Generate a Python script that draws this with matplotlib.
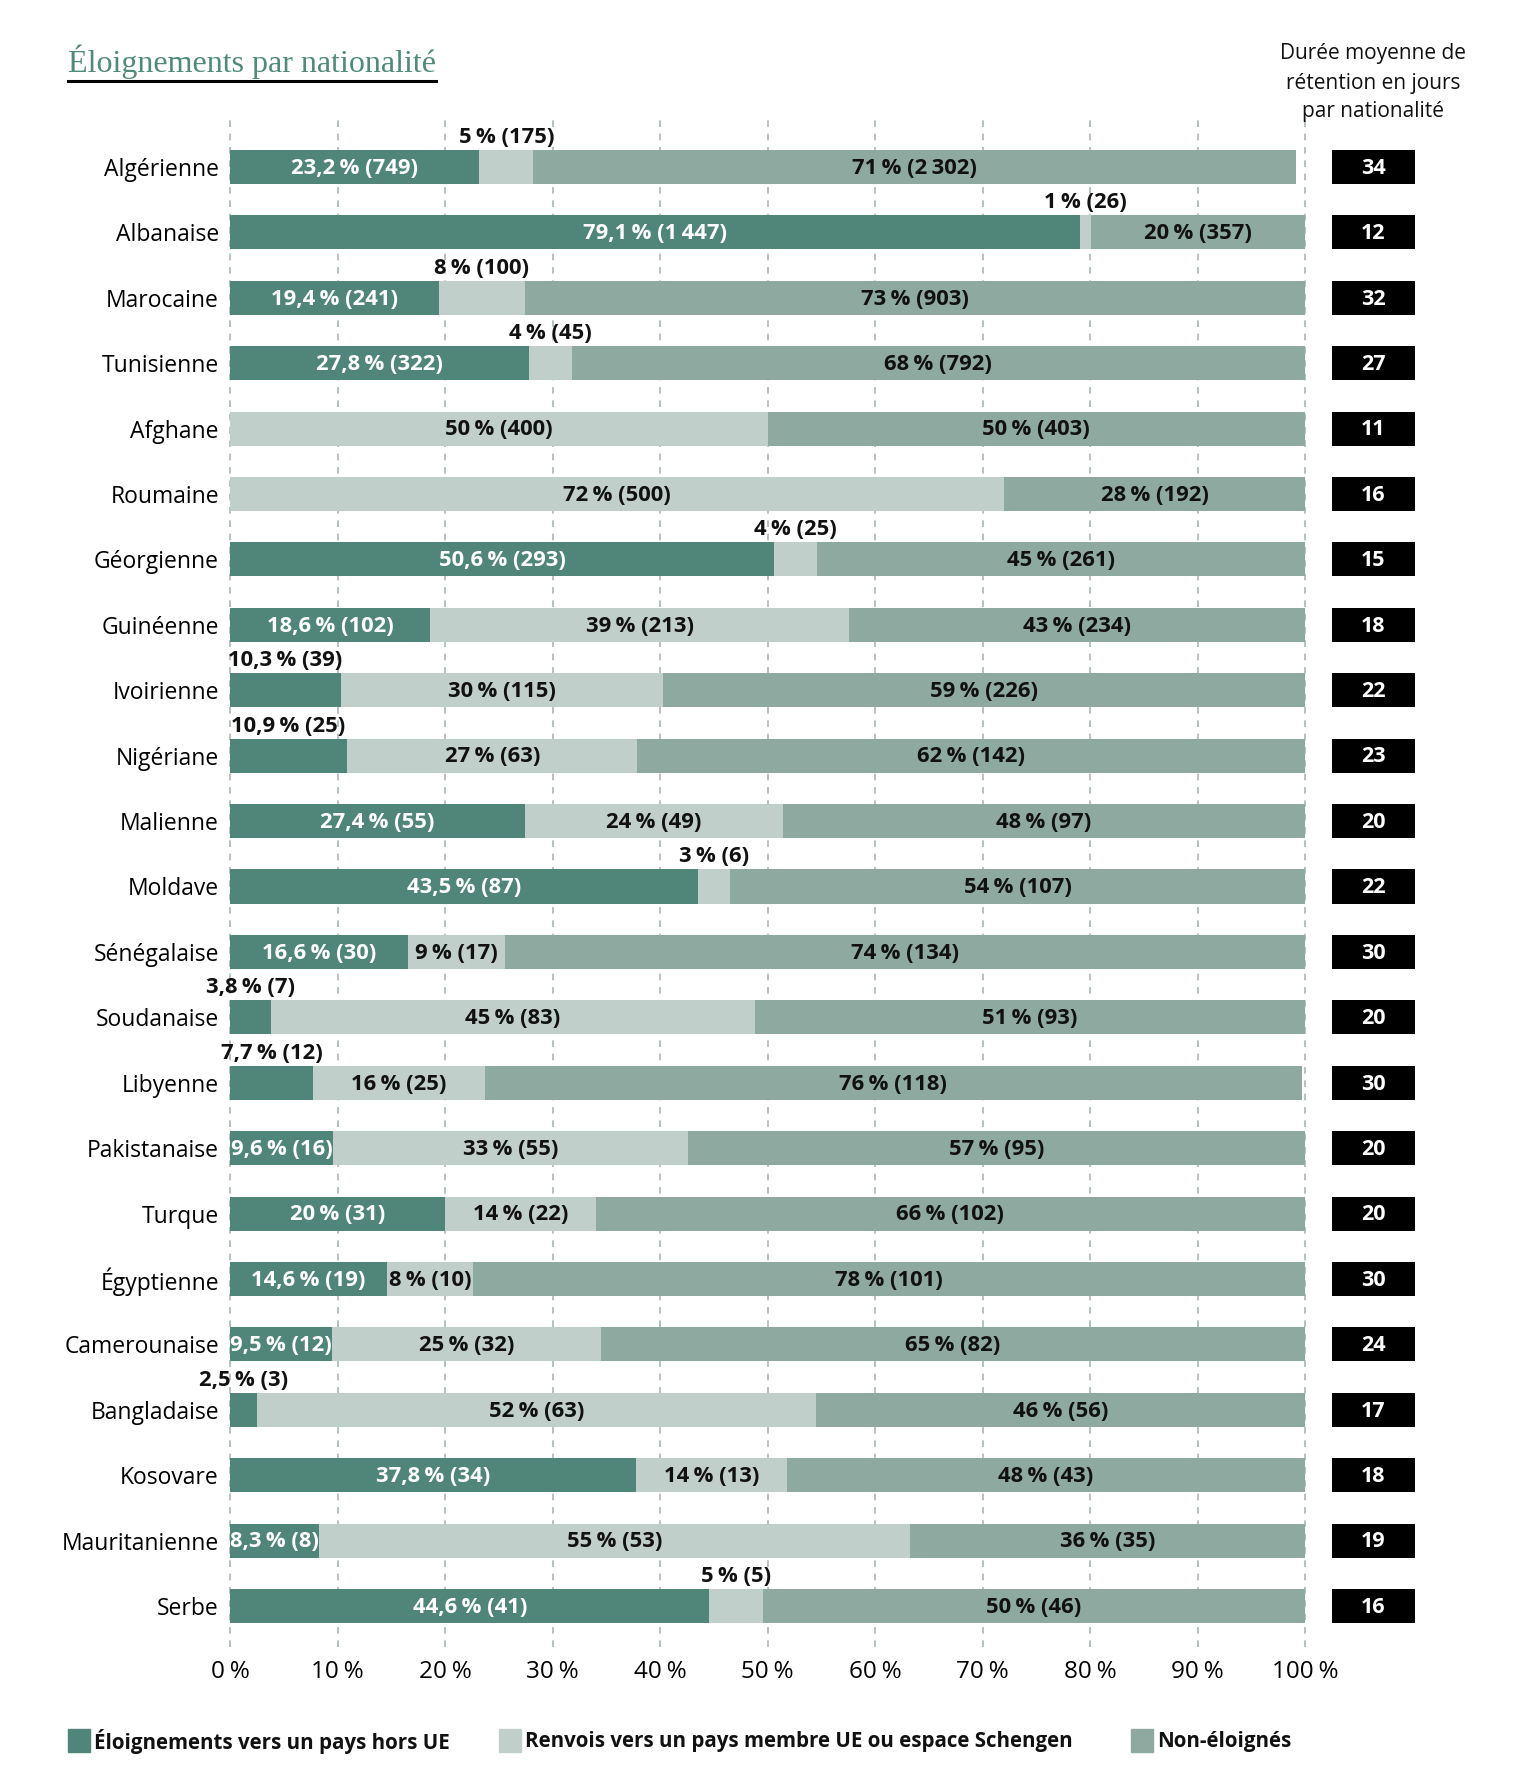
import matplotlib
matplotlib.use("Agg")
import matplotlib.pyplot as plt
from matplotlib.patches import Rectangle
from matplotlib.lines import Line2D
import numpy as np

plt.rcParams['font.family'] = ['Open Sans', 'DejaVu Sans']

# ---------------- data ----------------
categories = ["Algérienne", "Albanaise", "Marocaine", "Tunisienne", "Afghane", "Roumaine",
              "Géorgienne", "Guinéenne", "Ivoirienne", "Nigériane", "Malienne", "Moldave",
              "Sénégalaise", "Soudanaise", "Libyenne", "Pakistanaise", "Turque", "Égyptienne",
              "Camerounaise", "Bangladaise", "Kosovare", "Mauritanienne", "Serbe"]
pct_hors_ue = [23.2, 79.1, 19.4, 27.8, 0, 0, 50.6, 18.6, 10.3, 10.9, 27.4, 43.5,
               16.6, 3.8, 7.7, 9.6, 20, 14.6, 9.5, 2.5, 37.8, 8.3, 44.6]
n_hors_ue = [749, 1447, 241, 322, 0, 0, 293, 102, 39, 25, 55, 87,
             30, 7, 12, 16, 31, 19, 12, 3, 34, 8, 41]
pct_ue = [5, 1, 8, 4, 50, 72, 4, 39, 30, 27, 24, 3,
          9, 45, 16, 33, 14, 8, 25, 52, 14, 55, 5]
n_ue = [175, 26, 100, 45, 400, 500, 25, 213, 115, 63, 49, 6,
        17, 83, 25, 55, 22, 10, 32, 63, 13, 53, 5]
# rounded labels of the "non-éloignés" share
pct_non = [71, 20, 73, 68, 50, 28, 45, 43, 59, 62, 48, 54,
           74, 51, 76, 57, 66, 78, 65, 46, 48, 36, 50]
# drawn width of the "non-éloignés" segment
width_non = [71, 19.9, 72.6, 68.2, 50, 28, 45.4, 42.4, 59.7, 62.1, 48.6, 53.5,
             74.4, 51.2, 76, 57.4, 66, 77.4, 65.5, 45.5, 48.2, 36.7, 50.4]
n_non = [2302, 357, 903, 792, 403, 192, 261, 234, 226, 142, 97, 107,
         134, 93, 118, 95, 102, 101, 82, 56, 43, 35, 46]
duree = [34, 12, 32, 27, 11, 16, 15, 18, 22, 23, 20, 22,
         30, 20, 30, 20, 20, 30, 24, 17, 18, 19, 16]
series_names = ["Éloignements vers un pays hors UE",
                "Renvois vers un pays membre UE ou espace Schengen",
                "Non-éloignés"]
xticks = list(range(0, 101, 10))

# labels drawn above the bar instead of inside (layout choice)
OUTSIDE = {("Ivoirienne", 0), ("Nigériane", 0), ("Soudanaise", 0), ("Libyenne", 0),
           ("Bangladaise", 0),
           ("Algérienne", 1), ("Albanaise", 1), ("Marocaine", 1), ("Tunisienne", 1),
           ("Géorgienne", 1), ("Moldave", 1), ("Serbe", 1)}

# ---------------- style ----------------
C_DARK = "#4f8679"
C_LIGHT = "#c0cfca"
C_MID = "#8ea9a0"
C_GRID = "#a9b8b4"
C_TITLE = "#4f8a7b"
colors = [C_DARK, C_LIGHT, C_MID]
NNBSP = "\u202f"
LABEL_FS = 15.8

W, H = 1528, 1785
fig = plt.figure(figsize=(W / 100, H / 100), dpi=100)

def fx(px):
    return px / W

def fy(py):
    return 1 - py / H

ax_left, ax_right, ax_top, ax_bot = 230, 1305, 115, 1647
ax = fig.add_axes([fx(ax_left), fy(ax_bot), fx(ax_right - ax_left), (ax_bot - ax_top) / H])
n = len(categories)
ypos = np.arange(n)
ylim = (n - 1 + 0.627, -0.795)
bar_h = 0.52

def fmt_pct(v):
    if float(v).is_integer():
        s = f"{int(v)}"
    else:
        s = f"{v:.1f}".replace(".", ",")
    return s + NNBSP + "%"

def fmt_n(v):
    return f"{v:,}".replace(",", NNBSP)

widths = [pct_hors_ue, pct_ue, width_non]
label_pcts = [pct_hors_ue, pct_ue, pct_non]
counts = [n_hors_ue, n_ue, n_non]
left = np.zeros(n)
for k in range(3):
    vals = np.array(widths[k], dtype=float)
    ax.barh(ypos, vals, left=left, height=bar_h, color=colors[k], zorder=2)
    for i in range(n):
        v = vals[i]
        if v <= 0:
            continue
        label = f"{fmt_pct(label_pcts[k][i])} ({fmt_n(counts[k][i])})"
        cx = left[i] + v / 2
        if (categories[i], k) in OUTSIDE:
            ax.annotate(label, (cx, ypos[i] - bar_h / 2), xytext=(0, 1.5),
                        textcoords="offset points", ha="center", va="bottom",
                        fontsize=LABEL_FS, fontweight="bold", color="#111111", zorder=4,
                        annotation_clip=False)
        else:
            ax.text(cx, ypos[i] + 0.02, label, ha="center", va="center", fontsize=LABEL_FS,
                    fontweight="bold", color="white" if k == 0 else "#111111", zorder=4)
    left = left + vals

ax.set_xlim(0, 100)
ax.set_ylim(*ylim)
ax.set_xticks(xticks)
ax.set_xticklabels([f"{t}{NNBSP}%" for t in xticks], fontsize=17.5)
ax.set_yticks(ypos)
ax.set_yticklabels(categories, fontsize=16.5)
ax.tick_params(axis="both", length=0)
ax.tick_params(axis="x", pad=9)
ax.tick_params(axis="y", pad=8)
ax.grid(axis="x", color=C_GRID, linestyle=(0, (4, 4)), linewidth=1.2, zorder=0)
ax.set_axisbelow(True)
for gl in ax.get_xgridlines():
    gl.set_clip_on(False)
for s in ax.spines.values():
    s.set_visible(False)

# ---------------- duration boxes ----------------
ax2 = fig.add_axes([fx(1332), fy(ax_bot), fx(1415 - 1332), (ax_bot - ax_top) / H])
ax2.barh(ypos, np.ones(n), height=bar_h, color="black")
for i in range(n):
    ax2.text(0.5, ypos[i] + 0.02, str(duree[i]), ha="center", va="center", color="white",
             fontsize=15.5, fontweight="bold")
ax2.set_xlim(0, 1)
ax2.set_ylim(*ylim)
ax2.axis("off")

fig.text(fx(1373), fy(83), "Durée moyenne de\nrétention en jours\npar nationalité",
         ha="center", va="center", fontsize=15, linespacing=1.5, color="#111111")

# ---------------- title ----------------
title = fig.text(fx(68), fy(72), "Éloignements par nationalité", ha="left", va="baseline",
                 fontsize=23, family=["Liberation Serif", "DejaVu Serif"], color=C_TITLE)
fig.canvas.draw()
bb = title.get_window_extent(fig.canvas.get_renderer())
fig.add_artist(Line2D([bb.x0 / W, bb.x1 / W], [fy(81), fy(81)], color="black",
                      linewidth=2.2, transform=fig.transFigure))

# ---------------- legend ----------------
leg_sq_x = [68, 499, 1131]
for k in range(3):
    fig.add_artist(Rectangle((fx(leg_sq_x[k]), fy(1752)), fx(22), 23 / H,
                             transform=fig.transFigure, color=colors[k]))
    fig.text(fx(leg_sq_x[k] + 26), fy(1741), series_names[k], ha="left", va="center",
             fontsize=14.8, fontweight="bold", color="#111111")

fig.savefig("out.png", dpi=100)
